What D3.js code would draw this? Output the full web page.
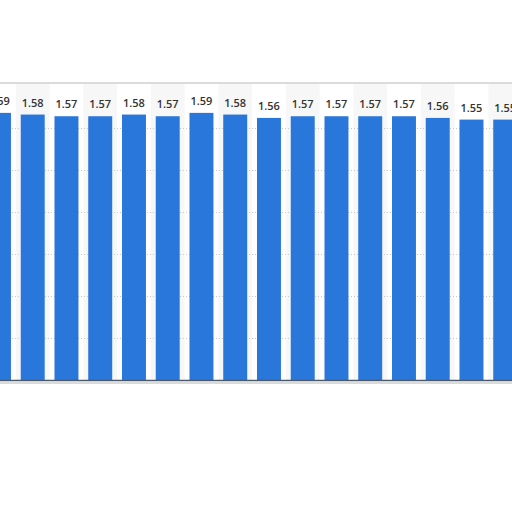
<!DOCTYPE html>
<html>
<head>
<meta charset="utf-8">
<script src="https://cdn.jsdelivr.net/npm/d3@7"></script>
<style>
  body { margin: 0; background: #fff; }
  svg { display: block; }
</style>
</head>
<body>
<script>
// categories (x labels are cropped out of the picture, so just index them)
const categories = d3.range(16).map(i => "c" + i);
// bar values
const values = [1.59, 1.58, 1.57, 1.57, 1.58, 1.57, 1.59, 1.58,
  1.56, 1.57, 1.57, 1.57, 1.57, 1.56, 1.55, 1.55];
// gridline values
const gridTicks = [0.25, 0.5, 0.75, 1, 1.25, 1.5];

const w = 512;
const h = 512;

const svg = d3.select("body")
  .append("svg")
  .attr("width", w)
  .attr("height", h);

// the chart is wider than the window, so the band range runs past both edges
const x = d3.scaleBand()
  .domain(categories)
  .range([-17.9, 522.1])
  .paddingInner(0.29)
  .paddingOuter(0.145);

const y = d3.scaleLinear()
  .domain([0, 1.75])
  .range([380, 86]);

const step = x.step();

// frame
svg.append("rect")
  .attr("x", -6)
  .attr("y", 83)
  .attr("width", w + 12)
  .attr("height", 300)
  .attr("fill", "#fff")
  .attr("stroke", "#cfcfcf")
  .attr("stroke-width", 1.5);

// alternating column bands
svg.selectAll("rect.band")
  .data(categories.filter((d, i) => i % 2 === 1))
  .enter()
  .append("rect")
  .attr("class", "band")
  .attr("x", d => x(d) + x.bandwidth() / 2 - step / 2)
  .attr("y", 84)
  .attr("width", step)
  .attr("height", 296)
  .attr("fill", "#f7f7f7");

// dotted gridlines
svg.selectAll("line.grid")
  .data(gridTicks)
  .enter()
  .append("line")
  .attr("class", "grid")
  .attr("x1", 0)
  .attr("x2", w)
  .attr("y1", d => y(d) + 0.5)
  .attr("y2", d => y(d) + 0.5)
  .attr("stroke", "#c8c8c8")
  .attr("stroke-dasharray", "1,2");

// bars
svg.selectAll("rect.bar")
  .data(values)
  .enter()
  .append("rect")
  .attr("class", "bar")
  .attr("x", (d, i) => x(categories[i]))
  .attr("y", d => y(d))
  .attr("width", x.bandwidth())
  .attr("height", d => y(0) - y(d))
  .attr("fill", "#2a77dc");

// value labels
svg.selectAll("text.label")
  .data(values)
  .enter()
  .append("text")
  .attr("class", "label")
  .attr("x", (d, i) => x(categories[i]) + x.bandwidth() / 2)
  .attr("y", d => y(d) - 8)
  .attr("text-anchor", "middle")
  .style("font-family", "'Open Sans', sans-serif")
  .style("font-size", "11px")
  .style("font-weight", "600")
  .style("fill", "#333")
  .text(d => d3.format(".2f")(d));

// baseline
svg.append("line")
  .attr("x1", 0)
  .attr("x2", w)
  .attr("y1", y(0) + 0.5)
  .attr("y2", y(0) + 0.5)
  .attr("stroke", "#4b5968")
  .attr("stroke-width", 1.5);
</script>
</body>
</html>
